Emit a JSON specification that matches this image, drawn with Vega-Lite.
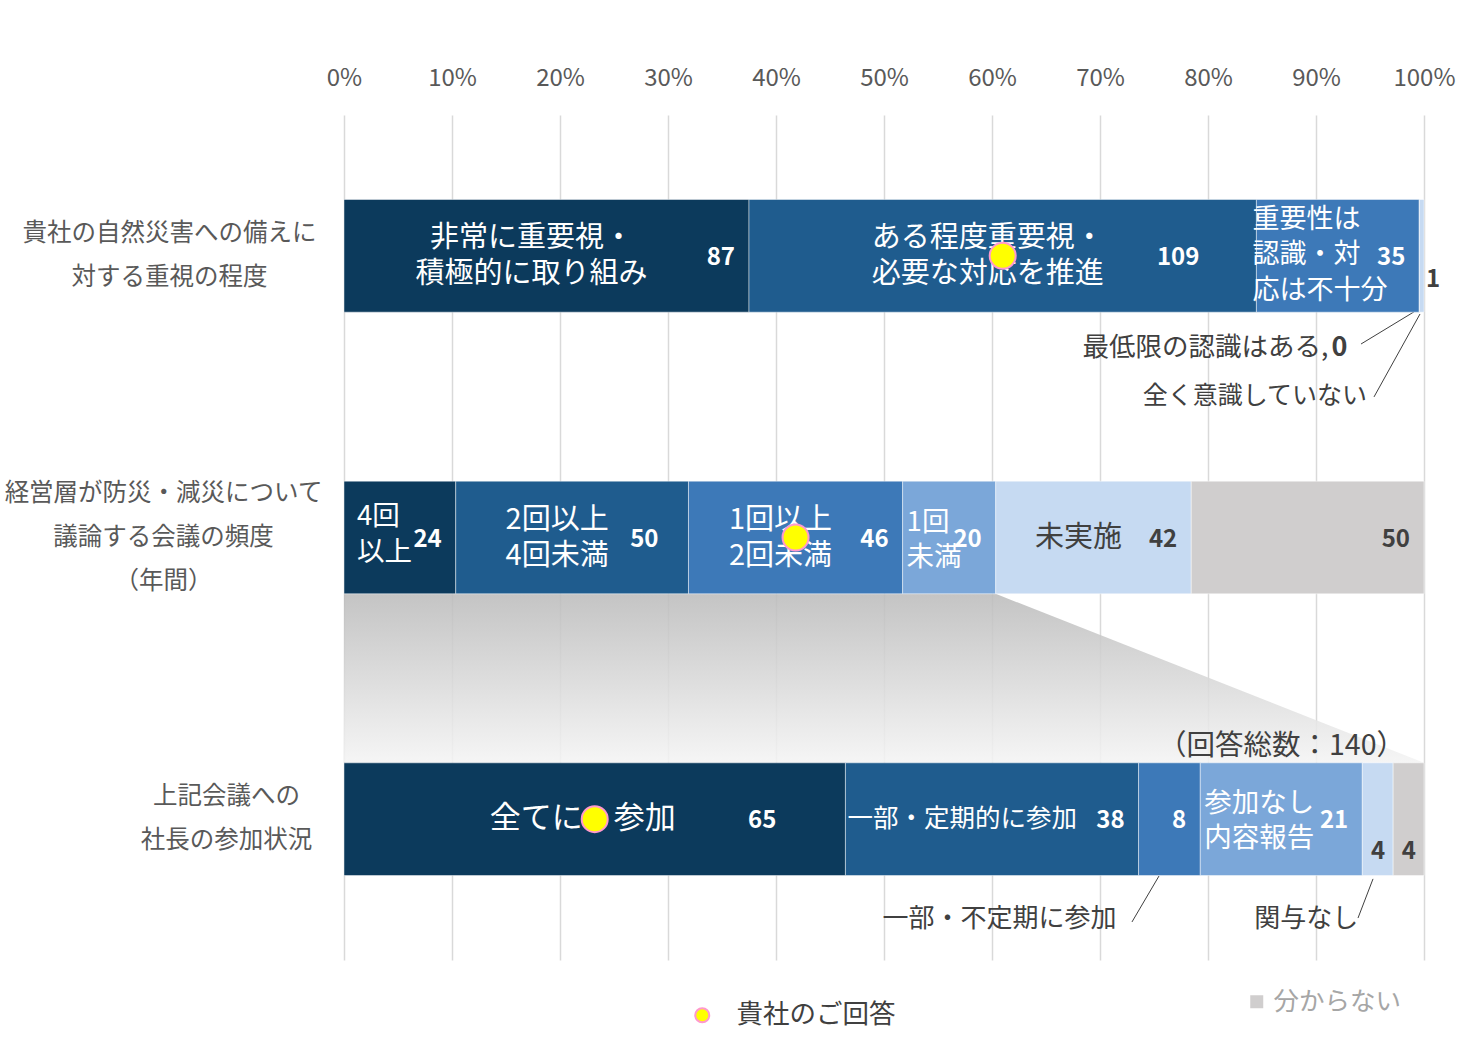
{
  "$schema": "https://vega.github.io/schema/vega-lite/v6.json",
  "width": 1080,
  "height": 845,
  "autosize": "none",
  "padding": {"left": 344, "top": 115, "right": 55, "bottom": 99},
  "background": "white",
  "config": {"font": "Noto Sans CJK JP", "view": {"stroke": null}},
  "datasets": {
    "bars": [
      {"q": "貴社の自然災害への備えに\n対する重視の程度", "k": 1, "cat": "非常に重要視・積極的に取り組み", "label": "非常に重要視・\n積極的に取り組み", "n": 87, "mine": false},
      {"q": "貴社の自然災害への備えに\n対する重視の程度", "k": 2, "cat": "ある程度重要視・必要な対応を推進", "label": "ある程度重要視・\n必要な対応を推進", "n": 109, "mine": true},
      {"q": "貴社の自然災害への備えに\n対する重視の程度", "k": 3, "cat": "重要性は認識・対応は不十分", "label": "重要性は\n認識・対\n応は不十分", "n": 35, "mine": false},
      {"q": "貴社の自然災害への備えに\n対する重視の程度", "k": 4, "cat": "最低限の認識はある", "label": "最低限の認識はある", "n": 0, "mine": false},
      {"q": "貴社の自然災害への備えに\n対する重視の程度", "k": 5, "cat": "全く意識していない", "label": "全く意識していない", "n": 1, "mine": false},
      {"q": "経営層が防災・減災について\n議論する会議の頻度\n（年間）", "k": 1, "cat": "4回以上", "label": "4回\n以上", "n": 24, "mine": false},
      {"q": "経営層が防災・減災について\n議論する会議の頻度\n（年間）", "k": 2, "cat": "2回以上4回未満", "label": "2回以上\n4回未満", "n": 50, "mine": false},
      {"q": "経営層が防災・減災について\n議論する会議の頻度\n（年間）", "k": 3, "cat": "1回以上2回未満", "label": "1回以上\n2回未満", "n": 46, "mine": true},
      {"q": "経営層が防災・減災について\n議論する会議の頻度\n（年間）", "k": 4, "cat": "1回未満", "label": "1回\n未満", "n": 20, "mine": false},
      {"q": "経営層が防災・減災について\n議論する会議の頻度\n（年間）", "k": 5, "cat": "未実施", "label": "未実施", "n": 42, "mine": false},
      {"q": "経営層が防災・減災について\n議論する会議の頻度\n（年間）", "k": 6, "cat": "分からない", "label": "分からない", "n": 50, "mine": false},
      {"q": "上記会議への\n社長の参加状況", "k": 1, "cat": "全てに参加", "label": "全てに　参加", "n": 65, "mine": true},
      {"q": "上記会議への\n社長の参加状況", "k": 2, "cat": "一部・定期的に参加", "label": "一部・定期的に参加", "n": 38, "mine": false},
      {"q": "上記会議への\n社長の参加状況", "k": 3, "cat": "一部・不定期に参加", "label": "一部・不定期に参加", "n": 8, "mine": false},
      {"q": "上記会議への\n社長の参加状況", "k": 4, "cat": "参加なし・内容報告", "label": "参加なし\n内容報告", "n": 21, "mine": false},
      {"q": "上記会議への\n社長の参加状況", "k": 5, "cat": "関与なし", "label": "関与なし", "n": 4, "mine": false},
      {"q": "上記会議への\n社長の参加状況", "k": 6, "cat": "分からない", "label": "分からない", "n": 4, "mine": false}
    ]
  },
  "layer": [
    {
      "layer": [
        {
          "data": {"values": [{"oy": 1.7, "xa": 0, "xb": 0.6034}, {"oy": 2.3, "xa": 0, "xb": 1}]},
          "mark": {
            "type": "area",
            "orient": "horizontal",
            "fill": {"gradient": "linear", "x1": 0, "y1": 0, "x2": 0, "y2": 1, "stops": [{"offset": 0, "color": "#bcbcbc"}, {"offset": 1, "color": "#f4f4f4"}]},
            "fillOpacity": 0.88
          },
          "encoding": {
            "y": {"field": "oy", "type": "quantitative", "scale": {"domain": [0, 3], "reverse": true, "nice": false, "zero": false}, "axis": null},
            "x": {"field": "xa", "type": "quantitative", "stack": null},
            "x2": {"field": "xb"}
          }
        },
        {
          "data": {"values": [
            {"lx1": 0.9907, "ly1": 0.699, "lx2": 0.9417, "ly2": 0.813},
            {"lx1": 0.9963, "ly1": 0.7065, "lx2": 0.9537, "ly2": 1.001},
            {"lx1": 0.7546, "ly1": 2.702, "lx2": 0.7296, "ly2": 2.865},
            {"lx1": 0.9528, "ly1": 2.712, "lx2": 0.9389, "ly2": 2.851}
          ]},
          "mark": {"type": "rule", "color": "#404040", "strokeWidth": 1},
          "encoding": {
            "x": {"field": "lx1", "type": "quantitative"},
            "x2": {"field": "lx2"},
            "y": {"field": "ly1", "type": "quantitative"},
            "y2": {"field": "ly2"}
          }
        }
      ]
    },
    {
      "data": {"name": "bars"},
      "transform": [
        {"stack": "n", "groupby": ["q"], "sort": [{"field": "k", "order": "ascending"}], "offset": "normalize", "as": ["x0", "x1"]},
        {"joinaggregate": [{"op": "sum", "field": "n", "as": "total"}], "groupby": ["q"]},
        {"calculate": "(datum.x0 + datum.x1) / 2", "as": "xm"},
        {"calculate": "'（回答総数：' + datum.total + '）'", "as": "totalText"},
        {"calculate": "datum.cat + ','", "as": "commaText"}
      ],
      "encoding": {
        "y": {
          "field": "q", "type": "nominal", "sort": null,
          "scale": {"paddingInner": 0.6, "paddingOuter": 0.3},
          "axis": {
            "orient": "left",
            "title": null, "domain": false, "ticks": false,
            "labelExpr": "split(datum.label, '\\n')",
            "labelFontSize": 24.5, "labelColor": "#595959", "labelLineHeight": 44,
            "labelAlign": "center", "labelBaseline": "middle", "labelLimit": 400,
            "labelOffset": {"condition": {"test": "indexof(datum.value, '年間') >= 0", "value": -44}, "value": -22},
            "labelPadding": {"condition": [{"test": "indexof(datum.value, '社長') >= 0", "value": 118}, {"test": "indexof(datum.value, '年間') >= 0", "value": 181}], "value": 175}
          }
        }
      },
      "layer": [
        {
          "mark": {"type": "bar", "stroke": "white", "strokeOpacity": 0.45, "strokeWidth": 1},
          "encoding": {
            "x": {
              "field": "x0", "type": "quantitative",
              "scale": {"domain": [0, 1], "nice": false},
              "axis": {
                "orient": "top", "format": "%", "values": [0, 0.1, 0.2, 0.3, 0.4, 0.5, 0.6, 0.7, 0.8, 0.9, 1],
                "title": null, "grid": true, "gridColor": "#d9d9d9", "gridWidth": 1.5,
                "domain": false, "ticks": false, "tickSize": 0, "labelFlush": false,
                "labelFontSize": 24, "labelColor": "#595959", "labelPadding": 25
              }
            },
            "x2": {"field": "x1"},
            "color": {
              "field": "cat", "type": "nominal",
              "scale": {
                "domain": ["非常に重要視・積極的に取り組み", "ある程度重要視・必要な対応を推進", "重要性は認識・対応は不十分", "最低限の認識はある", "全く意識していない", "4回以上", "2回以上4回未満", "1回以上2回未満", "1回未満", "未実施", "分からない", "全てに参加", "一部・定期的に参加", "一部・不定期に参加", "参加なし・内容報告", "関与なし"],
                "range": ["#0c3a5c", "#1f5c8e", "#3d79b8", "#7ba7d9", "#c6daf2", "#0c3a5c", "#1f5c8e", "#3d79b8", "#7ba7d9", "#c6daf2", "#d0cece", "#0c3a5c", "#1f5c8e", "#3d79b8", "#7ba7d9", "#c6daf2"]
              },
              "legend": {
                "values": ["分からない"], "title": null, "orient": "none", "legendX": 900, "legendY": 874,
                "symbolType": "square", "symbolSize": 169, "symbolStrokeWidth": 0,
                "labelFontSize": 25.5, "labelColor": "#a6a6a6", "labelOffset": 4, "padding": 0
              }
            }
          }
        },
        {
          "transform": [{"filter": "indexof(['非常に重要視・積極的に取り組み','ある程度重要視・必要な対応を推進','2回以上4回未満','1回以上2回未満'], datum.cat) >= 0"}],
          "mark": {"type": "text", "align": "center", "baseline": "middle", "dx": -15, "dy": -18, "fontSize": 29, "lineHeight": 36, "lineBreak": "\n", "color": "white"},
          "encoding": {
            "x": {"field": "xm", "type": "quantitative"},
            "text": {"field": "label", "type": "nominal"}
          }
        },
        {
          "transform": [{"filter": "datum.cat == '未実施'"}],
          "mark": {"type": "text", "align": "center", "baseline": "middle", "dx": -15, "fontSize": 29, "color": "#404040"},
          "encoding": {
            "x": {"field": "xm", "type": "quantitative"},
            "text": {"field": "label", "type": "nominal"}
          }
        },
        {
          "transform": [{"filter": "datum.cat == '全てに参加'"}],
          "mark": {"type": "text", "align": "center", "baseline": "middle", "dx": -12, "fontSize": 31, "color": "white"},
          "encoding": {
            "x": {"field": "xm", "type": "quantitative"},
            "text": {"field": "label", "type": "nominal"}
          }
        },
        {
          "transform": [{"filter": "datum.cat == '重要性は認識・対応は不十分'"}],
          "mark": {"type": "text", "align": "left", "baseline": "middle", "dx": -4, "dy": -36, "fontSize": 27, "lineHeight": 35.5, "lineBreak": "\n", "color": "white"},
          "encoding": {
            "x": {"field": "x0", "type": "quantitative"},
            "text": {"field": "label", "type": "nominal"}
          }
        },
        {
          "transform": [{"filter": "datum.cat == '4回以上'"}],
          "mark": {"type": "text", "align": "left", "baseline": "middle", "dx": 13, "dy": -21, "fontSize": 27.5, "lineHeight": 36, "lineBreak": "\n", "color": "white"},
          "encoding": {
            "x": {"field": "x0", "type": "quantitative"},
            "text": {"field": "label", "type": "nominal"}
          }
        },
        {
          "transform": [{"filter": "indexof(['1回未満','参加なし・内容報告'], datum.cat) >= 0"}],
          "mark": {"type": "text", "align": "left", "baseline": "middle", "dx": 4, "dy": -15, "fontSize": 27.5, "lineHeight": 35, "lineBreak": "\n", "color": "white"},
          "encoding": {
            "x": {"field": "x0", "type": "quantitative"},
            "text": {"field": "label", "type": "nominal"}
          }
        },
        {
          "transform": [{"filter": "datum.cat == '一部・定期的に参加'"}],
          "mark": {"type": "text", "align": "left", "baseline": "middle", "dx": 2, "fontSize": 25.5, "color": "white"},
          "encoding": {
            "x": {"field": "x0", "type": "quantitative"},
            "text": {"field": "label", "type": "nominal"}
          }
        },
        {
          "transform": [{"filter": "datum.n >= 5 && indexof(['ある程度重要視・必要な対応を推進','全てに参加','2回以上4回未満'], datum.cat) < 0"}],
          "mark": {"type": "text", "align": "right", "baseline": "middle", "dx": -14, "dy": 2, "fontSize": 24, "fontWeight": "bold"},
          "encoding": {
            "x": {"field": "x1", "type": "quantitative"},
            "text": {"field": "n", "type": "quantitative"},
            "color": {"condition": {"test": "datum.k >= 5", "value": "#404040"}, "value": "white"}
          }
        },
        {
          "transform": [{"filter": "datum.cat == 'ある程度重要視・必要な対応を推進'"}],
          "mark": {"type": "text", "align": "right", "baseline": "middle", "dx": -57, "dy": 2, "fontSize": 24, "fontWeight": "bold", "color": "white"},
          "encoding": {
            "x": {"field": "x1", "type": "quantitative"},
            "text": {"field": "n", "type": "quantitative"}
          }
        },
        {
          "transform": [{"filter": "datum.cat == '全てに参加'"}],
          "mark": {"type": "text", "align": "right", "baseline": "middle", "dx": -69, "dy": 2, "fontSize": 24, "fontWeight": "bold", "color": "white"},
          "encoding": {
            "x": {"field": "x1", "type": "quantitative"},
            "text": {"field": "n", "type": "quantitative"}
          }
        },
        {
          "transform": [{"filter": "datum.cat == '2回以上4回未満'"}],
          "mark": {"type": "text", "align": "right", "baseline": "middle", "dx": -30, "dy": 2, "fontSize": 24, "fontWeight": "bold", "color": "white"},
          "encoding": {
            "x": {"field": "x1", "type": "quantitative"},
            "text": {"field": "n", "type": "quantitative"}
          }
        },
        {
          "transform": [{"filter": "datum.n == 1"}],
          "mark": {"type": "text", "align": "left", "baseline": "middle", "dx": 2, "dy": 24, "fontSize": 24, "fontWeight": "bold", "color": "#404040"},
          "encoding": {
            "x": {"field": "x1", "type": "quantitative"},
            "text": {"field": "n", "type": "quantitative"}
          }
        },
        {
          "transform": [{"filter": "datum.n == 4"}],
          "mark": {"type": "text", "align": "right", "baseline": "middle", "dx": -8, "dy": 33, "fontSize": 24, "fontWeight": "bold", "color": "#404040"},
          "encoding": {
            "x": {"field": "x1", "type": "quantitative"},
            "text": {"field": "n", "type": "quantitative"}
          }
        },
        {
          "transform": [{"filter": "datum.cat == '最低限の認識はある'"}],
          "mark": {"type": "text", "align": "right", "baseline": "middle", "dx": -72, "dy": 92, "fontSize": 27, "fontWeight": "bold", "color": "#404040"},
          "encoding": {
            "x": {"field": "x1", "type": "quantitative"},
            "text": {"field": "n", "type": "quantitative"}
          }
        },
        {
          "transform": [{"filter": "datum.cat == '最低限の認識はある'"}],
          "mark": {"type": "text", "align": "right", "baseline": "middle", "dx": -91, "dy": 92, "fontSize": 26.5, "color": "#404040"},
          "encoding": {
            "x": {"field": "x1", "type": "quantitative"},
            "text": {"field": "commaText", "type": "nominal"}
          }
        },
        {
          "transform": [{"filter": "datum.cat == '全く意識していない'"}],
          "mark": {"type": "text", "align": "right", "baseline": "middle", "dx": -57, "dy": 140, "fontSize": 25, "color": "#404040"},
          "encoding": {
            "x": {"field": "x1", "type": "quantitative"},
            "text": {"field": "label", "type": "nominal"}
          }
        },
        {
          "transform": [{"filter": "datum.cat == '一部・不定期に参加'"}],
          "mark": {"type": "text", "align": "right", "baseline": "middle", "dx": -22, "dy": 100, "fontSize": 26, "color": "#404040"},
          "encoding": {
            "x": {"field": "x0", "type": "quantitative"},
            "text": {"field": "label", "type": "nominal"}
          }
        },
        {
          "transform": [{"filter": "datum.cat == '関与なし'"}],
          "mark": {"type": "text", "align": "right", "baseline": "middle", "dx": -4, "dy": 100, "fontSize": 26, "color": "#404040"},
          "encoding": {
            "x": {"field": "x0", "type": "quantitative"},
            "text": {"field": "label", "type": "nominal"}
          }
        },
        {
          "transform": [{"filter": "datum.k == 6 && indexof(datum.q, '社長') >= 0"}],
          "mark": {"type": "text", "align": "right", "baseline": "middle", "dx": -19, "dy": -73, "fontSize": 28.5, "color": "#404040"},
          "encoding": {
            "x": {"field": "x1", "type": "quantitative"},
            "text": {"field": "totalText", "type": "nominal"}
          }
        },
        {
          "transform": [{"filter": "datum.mine"}],
          "mark": {"type": "point", "filled": true, "size": 676, "stroke": "#ff99cc", "strokeWidth": 2, "opacity": 1},
          "encoding": {
            "x": {"field": "xm", "type": "quantitative"},
            "fill": {
              "datum": "貴社のご回答", "type": "nominal",
              "scale": {"range": ["#ffff00"]},
              "legend": {
                "title": null, "orient": "none", "legendX": 345, "legendY": 887,
                "symbolType": "circle", "symbolSize": 196, "symbolStrokeColor": "#ff99cc", "symbolStrokeWidth": 2,
                "labelFontSize": 26.5, "labelColor": "#404040", "labelOffset": 21, "padding": 0
              }
            }
          }
        }
      ]
    }
  ],
  "resolve": {"scale": {"y": "independent"}}
}
